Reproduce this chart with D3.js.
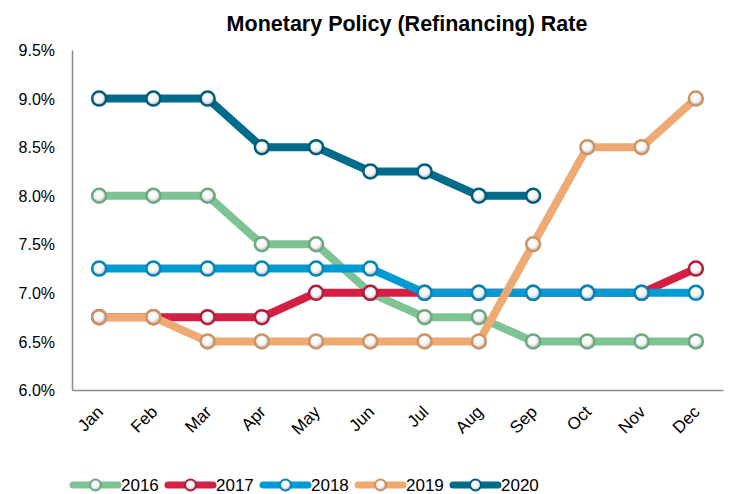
<!DOCTYPE html>
<html>
<head>
<meta charset="utf-8">
<script src="https://cdn.jsdelivr.net/npm/d3@7"></script>
<style>
  body { margin: 0; background: #fff; }
  text { font-family: "Liberation Sans", Arial, sans-serif; fill: #000; }
</style>
</head>
<body>
<div id="chart"></div>
<script>
var months = ["Jan","Feb","Mar","Apr","May","Jun","Jul","Aug","Sep","Oct","Nov","Dec"];
var yTicks = [6.0, 6.5, 7.0, 7.5, 8.0, 8.5, 9.0, 9.5];

var rate2016 = [8, 8, 8, 7.5, 7.5, 7, 6.75, 6.75, 6.5, 6.5, 6.5, 6.5];
var rate2017 = [6.75, 6.75, 6.75, 6.75, 7, 7, 7, 7, 7, 7, 7, 7.25];
var rate2018 = [7.25, 7.25, 7.25, 7.25, 7.25, 7.25, 7, 7, 7, 7, 7, 7];
var rate2019 = [6.75, 6.75, 6.5, 6.5, 6.5, 6.5, 6.5, 6.5, 7.5, 8.5, 8.5, 9];
var rate2020 = [9, 9, 9, 8.5, 8.5, 8.25, 8.25, 8, 8];

var seriesNames = ["2016","2017","2018","2019","2020"];
var seriesColors = ["#7dc394", "#d21f43", "#009ad3", "#eeaa72", "#006b8b"];
var seriesData = [rate2016, rate2017, rate2018, rate2019, rate2020];

var W = 730, H = 494;
var margin = {top: 50, right: 7, bottom: 104, left: 72};
var width = W - margin.left - margin.right,
    height = H - margin.top - margin.bottom;

var svg = d3.select("#chart").append("svg")
    .attr("width", W).attr("height", H);

var defs = svg.append("defs");
seriesColors.forEach(function(c, i) {
    var g = defs.append("radialGradient").attr("id", "ball" + i)
        .attr("cx", "45%").attr("cy", "40%").attr("r", "60%");
    g.append("stop").attr("offset", "0%").attr("stop-color", "#ffffff");
    g.append("stop").attr("offset", "55%").attr("stop-color", "#f4f4f4");
    g.append("stop").attr("offset", "100%").attr("stop-color", "#a9a9a9");
});

var g = svg.append("g")
    .attr("transform", "translate(" + margin.left + "," + margin.top + ")");

var x = d3.scaleBand().domain(months).range([0, width]);
var y = d3.scaleLinear().domain([6, 9.5]).range([height, 0]);

// title
svg.append("text")
    .attr("x", 407).attr("y", 31)
    .attr("text-anchor", "middle")
    .style("font-size", "21.5px")
    .style("font-weight", "bold")
    .text("Monetary Policy (Refinancing) Rate");

// axes
var yAxis = g.append("g").call(d3.axisLeft(y).tickValues(yTicks)
    .tickFormat(function(d) { return d.toFixed(1) + "%"; }).tickSize(0).tickPadding(17));
yAxis.select(".domain").attr("stroke", "#8c8c8c").attr("stroke-width", 1.5);
yAxis.selectAll("text").style("font-size", "16px").attr("dy", "0.35em");

var xAxis = g.append("g").attr("transform", "translate(0," + height + ")")
    .call(d3.axisBottom(x).tickSize(0).tickSizeOuter(0));
xAxis.select(".domain").attr("stroke", "#8c8c8c").attr("stroke-width", 1.5);
xAxis.selectAll("text")
    .style("font-size", "17px")
    .attr("text-anchor", "end")
    .attr("y", 0)
    .attr("dy", 0)
    .attr("transform", "translate(5,23) rotate(-45)");

var line = d3.line()
    .x(function(d, i) { return x(months[i]) + x.bandwidth() / 2; })
    .y(function(d) { return y(d); });

seriesData.forEach(function(vals, s) {
    var sg = g.append("g");
    sg.append("path").datum(vals)
        .attr("fill", "none")
        .attr("stroke", seriesColors[s])
        .attr("stroke-width", 8)
        .attr("d", line);
    sg.selectAll("circle").data(vals).enter().append("circle")
        .attr("cx", function(d, i) { return x(months[i]) + x.bandwidth() / 2; })
        .attr("cy", function(d) { return y(d); })
        .attr("r", 7)
        .attr("fill", "url(#ball" + s + ")")
        .attr("stroke", d3.color(seriesColors[s]).darker(0.4))
        .attr("stroke-width", 2.5);
});

// legend
var legend = svg.append("g").attr("transform", "translate(73,485)");
seriesNames.forEach(function(name, i) {
    var lg = legend.append("g").attr("transform", "translate(" + (i * 95) + ",0)");
    lg.append("line").attr("x1", 0).attr("x2", 45).attr("y1", 0).attr("y2", 0)
        .attr("stroke", seriesColors[i]).attr("stroke-width", 7).attr("stroke-linecap", "round");
    lg.append("circle").attr("cx", 22.5).attr("cy", 0).attr("r", 5.5)
        .attr("fill", "url(#ball" + i + ")")
        .attr("stroke", d3.color(seriesColors[i]).darker(0.4)).attr("stroke-width", 2);
    lg.append("text").attr("x", 48).attr("y", 0).attr("dy", "0.35em")
        .style("font-size", "17px").text(name);
});
</script>
</body>
</html>
